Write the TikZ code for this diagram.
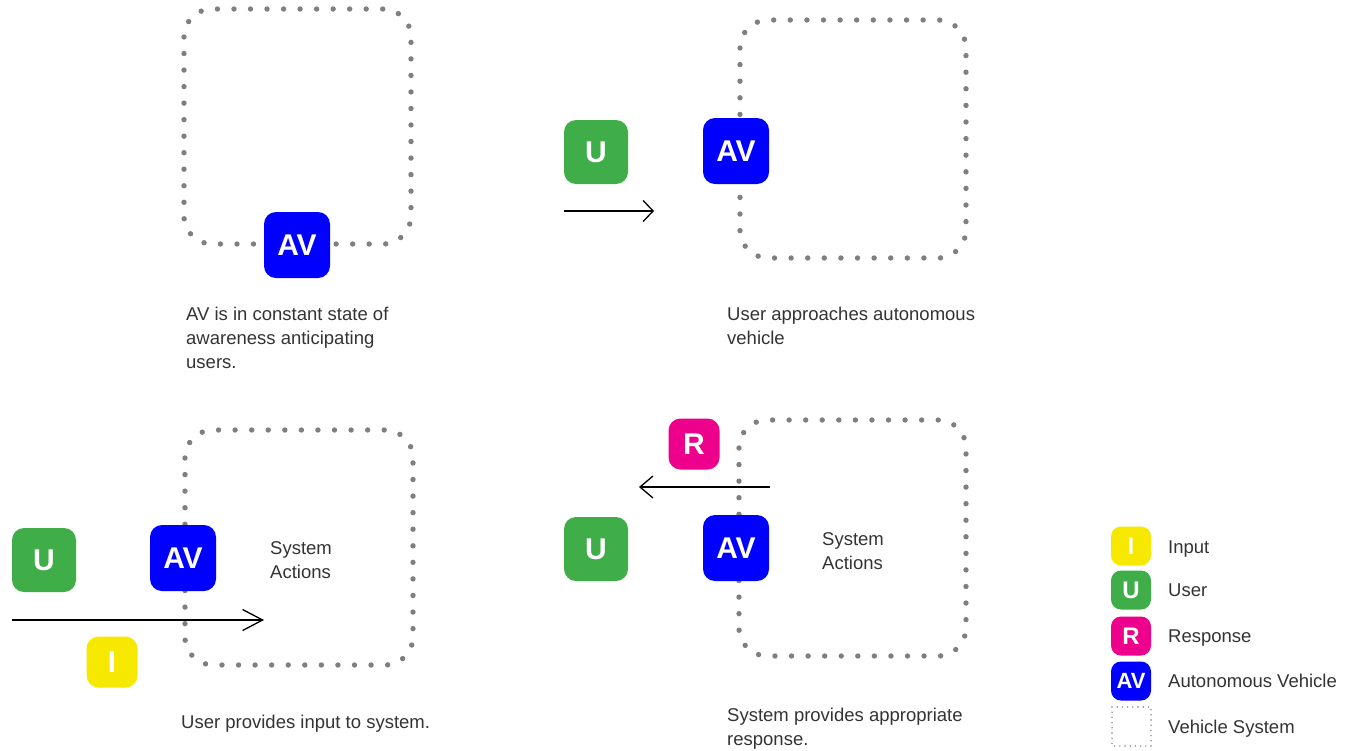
\documentclass[tikz,border=0pt]{standalone}
\usepackage{fontspec}
\setmainfont{Liberation Sans}
\usetikzlibrary{arrows.meta}
\definecolor{avblue}{HTML}{0000FF}
\definecolor{ugreen}{HTML}{3FAE49}
\definecolor{iyellow}{HTML}{F7E800}
\definecolor{rpink}{HTML}{EC008C}
\definecolor{dotgray}{HTML}{7F7F7F}
\definecolor{txtgray}{HTML}{333333}
\tikzset{
  sysbox/.style={draw=dotgray, line width=5.4pt, line cap=round, dash pattern=on 0pt off #1, rounded corners=28pt, inner sep=0pt},
  tag/.style={rounded corners=12pt, inner sep=0pt, minimum size=66pt, text=white, font=\fontsize{30}{30}\selectfont\bfseries},
  ltag/.style={rounded corners=10pt, inner sep=0pt, minimum width=40pt, minimum height=39pt, text=white, font=\fontsize{24}{24}\selectfont\bfseries},
  desc/.style={anchor=base west, align=left, inner sep=0pt, text=txtgray, font=\fontsize{18.5}{24}\selectfont},
  flow/.style={line width=1.3pt, black, -{Straight Barb[length=10pt,width=21pt]}},
}
\begin{document}
\begin{tikzpicture}[x=1pt,y=-1pt]
\useasboundingbox (0,0) rectangle (1354,750);
% vehicle system boxes
\draw[sysbox=16.527pt] (184,9) rectangle (411,244);
\draw[sysbox=16.602pt] (740,20) rectangle (966,258);
\draw[sysbox=16.565pt] (185,430) rectangle (413,665);
\draw[sysbox=16.565pt] (739,420) rectangle (966,656);
% arrows
\coordinate (a2s) at (564,211); \coordinate (a2e) at (654,211);
\draw[flow] (a2s) -- (a2e);
\coordinate (a3s) at (12,620); \coordinate (a3e) at (264,620);
\draw[flow,-{Straight Barb[length=20pt,width=21pt]}] (a3s) -- (a3e);
\coordinate (a4s) at (770,487); \coordinate (a4e) at (639,487);
\draw[flow,-{Straight Barb[length=13pt,width=22pt]}] (a4s) -- (a4e);
% panel 1
\node[tag, fill=avblue] (av1) at (297,245) {AV};
\node[desc] (t1) at (186,368) {AV is in constant state of\\awareness anticipating\\users.};
% panel 2
\node[tag, fill=ugreen, minimum size=64pt] (u2) at (596,152) {U};
\node[tag, fill=avblue] (av2) at (736,151) {AV};
\node[desc] (t2) at (727,344) {User approaches autonomous\\vehicle};
% panel 3
\node[tag, fill=ugreen, minimum size=64pt] (u3) at (44,560) {U};
\node[tag, fill=avblue] (av3) at (183,558) {AV};
\node[tag, fill=iyellow, minimum size=51pt] (i3) at (112,662) {I};
\node[desc] (s3) at (270,578) {System\\Actions};
\node[desc] (t3) at (181,728) {User provides input to system.};
% panel 4
\node[tag, fill=rpink, minimum size=51pt] (r4) at (694,444) {R};
\node[tag, fill=ugreen, minimum size=64pt] (u4) at (596,549) {U};
\node[tag, fill=avblue] (av4) at (736,548) {AV};
\node[desc] (s4) at (822,569) {System\\Actions};
\node[desc] (t4) at (727,745) {System provides appropriate\\response.};
% legend
\node[ltag, fill=iyellow] (li) at (1131,546) {I};
\node[ltag, fill=ugreen] (lu) at (1131,590) {U};
\node[ltag, fill=rpink] (lr) at (1131,636) {R};
\node[ltag, fill=avblue, font=\fontsize{22}{22}\selectfont\bfseries] (lav) at (1131,681) {AV};
\draw[draw=dotgray, line width=1.6pt, line cap=round, dash pattern=on 0pt off 5.2pt] (1112,707) rectangle (1151,746);
\node[desc] (lti) at (1168,553) {Input};
\node[desc] (ltu) at (1168,596) {User};
\node[desc] (ltr) at (1168,642) {Response};
\node[desc] (ltav) at (1168,687) {Autonomous Vehicle};
\node[desc] (ltvs) at (1168,733) {Vehicle System};
\end{tikzpicture}
\end{document}
